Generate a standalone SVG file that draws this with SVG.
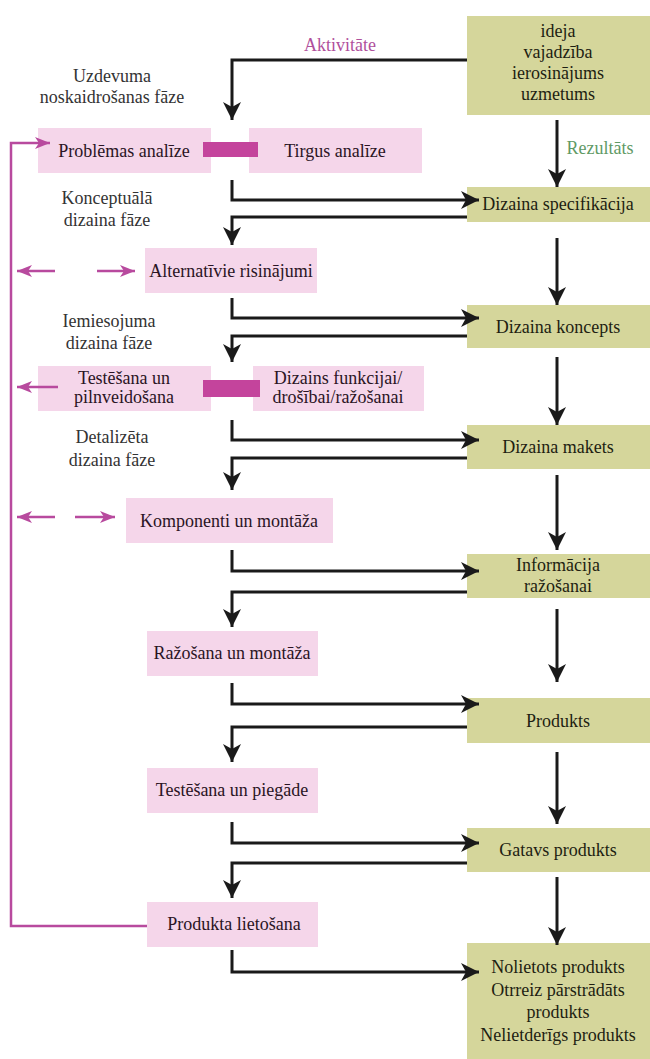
<svg xmlns="http://www.w3.org/2000/svg" width="650" height="1059" viewBox="0 0 650 1059" font-family="'Liberation Serif','DejaVu Serif','Times New Roman',serif">
<style>
text{font-family:"Liberation Serif","DejaVu Serif","Times New Roman",serif;text-anchor:middle}
.pk{fill:#f5d6ea}
.gr{fill:#d5d69b}
.bar{fill:#c4449c}
.t{font-size:18px;fill:#2a1424}
.tg{font-size:18px;fill:#1e1e12}
.ph{font-size:18px;fill:#333}
.blk{fill:none;stroke:#1a1a1a;stroke-width:3}
.mag{fill:none;stroke:#b84a9e;stroke-width:2.5}
</style>
<defs>
<marker id="ab" markerUnits="userSpaceOnUse" markerWidth="20" markerHeight="18" refX="18" refY="9" orient="auto">
<path d="M0,0 L18,9 L0,18 L5,9 z" fill="#1a1a1a"/>
</marker>
<marker id="am" markerUnits="userSpaceOnUse" markerWidth="16" markerHeight="12" refX="15" refY="6" orient="auto">
<path d="M0,0 L15,6 L0,12 L4,6 z" fill="#b84a9e"/>
</marker>
</defs>
<g id="labels">
<text x="340" y="51" style="font-size:18px;fill:#b0509c">Aktivitāte</text>
<text x="600" y="154" style="font-size:18px;fill:#5f9a66">Rezultāts</text>
<text class="ph" x="112" y="82">Uzdevuma</text>
<text class="ph" x="112" y="103">noskaidrošanas fāze</text>
<text class="ph" x="107" y="204">Konceptuālā</text>
<text class="ph" x="107" y="226">dizaina fāze</text>
<text class="ph" x="109" y="327">Iemiesojuma</text>
<text class="ph" x="109" y="349">dizaina fāze</text>
<text class="ph" x="112" y="443">Detalizēta</text>
<text class="ph" x="112" y="466">dizaina fāze</text>
</g>
<g id="n-ideja"><rect class="gr" x="467" y="16" width="183" height="99"/>
<text class="tg" x="558" y="37">ideja</text><text class="tg" x="558" y="58">vajadzība</text><text class="tg" x="558" y="79">ierosinājums</text><text class="tg" x="558" y="100">uzmetums</text></g>
<g id="n-spec"><rect class="gr" x="467" y="187" width="183" height="35"/><text class="tg" x="558" y="210">Dizaina specifikācija</text></g>
<g id="n-koncepts"><rect class="gr" x="467" y="305" width="183" height="43"/><text class="tg" x="558" y="333">Dizaina koncepts</text></g>
<g id="n-makets"><rect class="gr" x="467" y="425" width="183" height="44"/><text class="tg" x="558" y="453">Dizaina makets</text></g>
<g id="n-info"><rect class="gr" x="467" y="554" width="183" height="44"/><text class="tg" x="558" y="571">Informācija</text><text class="tg" x="558" y="592">ražošanai</text></g>
<g id="n-produkts"><rect class="gr" x="467" y="698" width="183" height="45"/><text class="tg" x="558" y="727">Produkts</text></g>
<g id="n-gatavs"><rect class="gr" x="467" y="828" width="183" height="44"/><text class="tg" x="558" y="856">Gatavs produkts</text></g>
<g id="n-nolietots"><rect class="gr" x="467" y="943" width="183" height="116"/>
<text class="tg" x="558" y="973">Nolietots produkts</text><text class="tg" x="558" y="996">Otrreiz pārstrādāts</text><text class="tg" x="558" y="1018">produkts</text><text class="tg" x="558" y="1041">Nelietderīgs produkts</text></g>
<g id="n-problemas"><rect class="pk" x="38" y="128" width="173" height="45"/><text class="t" x="124" y="157">Problēmas analīze</text></g>
<g id="n-tirgus"><rect class="pk" x="249" y="128" width="173" height="45"/><text class="t" x="335" y="157">Tirgus analīze</text></g>
<rect id="bar1" class="bar" x="203" y="142" width="55" height="15"/>
<g id="n-alternativie"><rect class="pk" x="145" y="248" width="172" height="45"/><text class="t" x="231" y="277">Alternatīvie risinājumi</text></g>
<g id="n-testesana"><rect class="pk" x="38" y="366" width="173" height="45"/><text class="t" x="124" y="384">Testēšana un</text><text class="t" x="124" y="403">pilnveidošana</text></g>
<g id="n-dizains"><rect class="pk" x="253" y="366" width="171" height="45"/><text class="t" x="338" y="384">Dizains funkcijai/</text><text class="t" x="338" y="403">drošībai/ražošanai</text></g>
<rect id="bar2" class="bar" x="203" y="380" width="57" height="17"/>
<g id="n-komponenti"><rect class="pk" x="126" y="498" width="207" height="45"/><text class="t" x="229" y="527">Komponenti un montāža</text></g>
<g id="n-razosana"><rect class="pk" x="147" y="631" width="171" height="45"/><text class="t" x="232" y="659">Ražošana un montāža</text></g>
<g id="n-piegade"><rect class="pk" x="147" y="768" width="171" height="45"/><text class="t" x="232" y="796">Testēšana un piegāde</text></g>
<g id="n-lietosana"><rect class="pk" x="147" y="902" width="171" height="45"/><text class="t" x="234" y="930">Produkta lietošana</text></g>
<g id="connectors">
<path class="blk" d="M467,60 H232 V120" marker-end="url(#ab)"/>
<path class="blk" d="M557,120 V187" marker-end="url(#ab)"/>
<path class="blk" d="M557,238 V305" marker-end="url(#ab)"/>
<path class="blk" d="M557,357 V425" marker-end="url(#ab)"/>
<path class="blk" d="M557,475 V550" marker-end="url(#ab)"/>
<path class="blk" d="M557,609 V682" marker-end="url(#ab)"/>
<path class="blk" d="M557,752 V824" marker-end="url(#ab)"/>
<path class="blk" d="M557,877 V945" marker-end="url(#ab)"/>
<path class="blk" d="M232,180 V200 H479" marker-end="url(#ab)"/>
<path class="blk" d="M467,217 H232 V245" marker-end="url(#ab)"/>
<path class="blk" d="M232,298 V318 H479" marker-end="url(#ab)"/>
<path class="blk" d="M467,336 H232 V362" marker-end="url(#ab)"/>
<path class="blk" d="M232,420 V440 H479" marker-end="url(#ab)"/>
<path class="blk" d="M467,458 H232 V490" marker-end="url(#ab)"/>
<path class="blk" d="M232,550 V571 H479" marker-end="url(#ab)"/>
<path class="blk" d="M467,592 H232 V627" marker-end="url(#ab)"/>
<path class="blk" d="M232,683 V704 H479" marker-end="url(#ab)"/>
<path class="blk" d="M467,727 H232 V762" marker-end="url(#ab)"/>
<path class="blk" d="M232,822 V843 H479" marker-end="url(#ab)"/>
<path class="blk" d="M467,863 H232 V898" marker-end="url(#ab)"/>
<path class="blk" d="M232,950 V972 H479" marker-end="url(#ab)"/>
<path class="mag" d="M147,926 H11 V143 H50" marker-end="url(#am)"/>
<path class="mag" d="M55,271 H17" marker-end="url(#am)"/>
<path class="mag" d="M97,271 H135" marker-end="url(#am)"/>
<path class="mag" d="M58,387 H17" marker-end="url(#am)"/>
<path class="mag" d="M55,517 H17" marker-end="url(#am)"/>
<path class="mag" d="M75,517 H115" marker-end="url(#am)"/>
</g>
</svg>
